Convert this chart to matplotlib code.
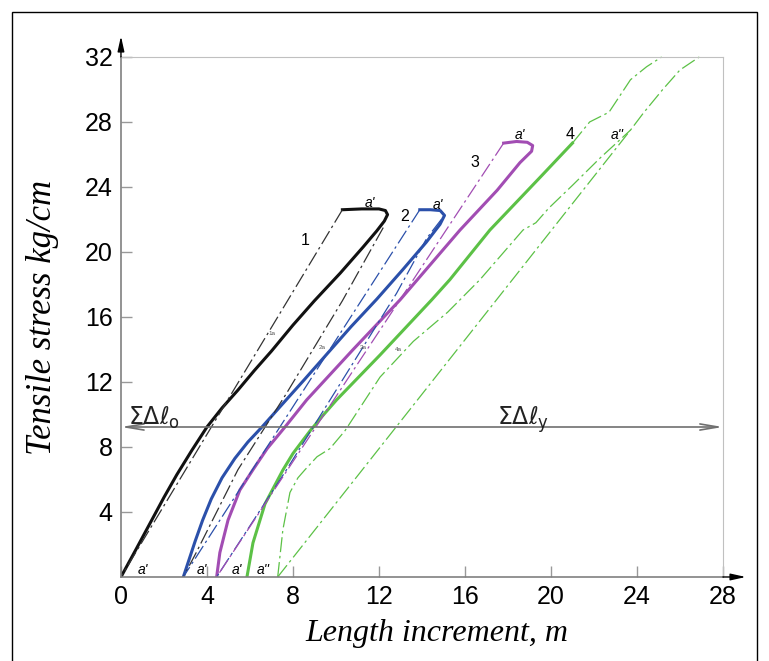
import numpy as np
import matplotlib.pyplot as plt
from matplotlib.patches import Rectangle

plt.rcParams['font.family'] = ['Liberation Sans', 'DejaVu Sans']
plt.rcParams['mathtext.fontset'] = 'dejavusans'

# loading curves (solid)
c1_x = [0, 0.7, 1.35, 2.0, 2.6, 3.3, 4.0, 4.7, 5.44, 6.2, 7.0, 8.0, 9.0, 10.2, 11.26, 11.9, 12.25, 12.4, 12.3, 12.0, 11.2, 10.3]
c1_y = [0, 1.7, 3.3, 4.9, 6.3, 7.8, 9.23, 10.4, 11.5, 12.7, 13.9, 15.5, 17.0, 18.7, 20.3, 21.3, 21.9, 22.3, 22.55, 22.65, 22.65, 22.6]
c2_x = [2.9, 3.15, 3.45, 3.8, 4.2, 4.7, 5.3, 5.9, 6.56, 7.55, 8.5, 9.5, 10.7, 11.9, 13.1, 14.2, 14.84, 15.05, 14.85, 14.4, 13.9]
c2_y = [0, 1.0, 2.2, 3.5, 4.8, 6.1, 7.3, 8.3, 9.23, 10.7, 12.1, 13.6, 15.4, 17.1, 18.9, 20.6, 21.7, 22.25, 22.55, 22.6, 22.6]
c3_x = [4.45, 4.6, 4.98, 5.53, 6.14, 6.8, 7.63, 8.64, 10.8, 12.98, 15.77, 17.5, 18.56, 19.1, 19.15, 18.9, 18.4, 17.8]
c3_y = [0, 1.5, 3.5, 5.35, 6.6, 7.9, 9.23, 10.9, 14.0, 17.05, 21.35, 23.8, 25.5, 26.2, 26.55, 26.75, 26.8, 26.7]
c4_x = [5.86, 6.14, 6.7, 7.54, 8.0, 8.8, 9.4, 10.03, 12.05, 14.45, 15.3, 17.16, 19.5, 21.0]
c4_y = [0, 2.1, 4.5, 6.6, 7.6, 9.0, 9.95, 10.9, 13.66, 17.05, 18.3, 21.35, 24.6, 26.7]

# unloading / reference lines (dash-dot)
d1a_x = [10.3, 0]
d1a_y = [22.6, 0]
d1b_x = [12.2, 10.3, 7.7, 5.44, 3.5, 2.9]
d1b_y = [21.5, 17.0, 11.3, 6.6, 1.5, 0]
d2a_x = [13.9, 2.9]
d2a_y = [22.6, 0]
d2b_x = [14.9, 14.22, 12.82, 7.7, 4.45]
d2b_y = [22.0, 20.84, 17.46, 6.6, 0]
d3a_x = [17.8, 4.45]
d3a_y = [26.7, 0]
d4_top_x = [21.0, 21.8, 22.7, 23.3, 23.7, 24.45, 25.15]
d4_top_y = [26.7, 28.0, 28.6, 29.8, 30.6, 31.4, 32.0]
d4_wavy_x = [7.29, 7.53, 7.86, 8.23, 8.56, 9.12, 9.72, 10.42, 12.05, 13.6, 15.2, 16.7, 18.7, 19.3, 19.9, 21.0, 22.3, 23.7]
d4_wavy_y = [0, 2.9, 5.2, 6.1, 6.6, 7.4, 7.9, 9.0, 12.3, 14.5, 16.3, 18.3, 21.35, 21.8, 22.7, 24.1, 25.8, 27.5]
d4_str_x = [7.29, 23.7, 24.3, 25.2, 26.0, 26.9]
d4_str_y = [0, 27.5, 28.55, 30.0, 31.2, 32.0]

level = 9.23
x_ticks = [0, 4, 8, 12, 16, 20, 24, 28]
y_ticks = [4, 8, 12, 16, 20, 24, 28, 32]

black = '#111111'
blue = '#2b50aa'
purple = '#a24db3'
green = '#5cc146'
dd = (0, (12, 3, 2, 3))

fig = plt.figure(figsize=(7.69, 6.61), dpi=100)
fig.patches.append(Rectangle((12 / 769, -0.05), 745 / 769, 1.032, transform=fig.transFigure,
                             fill=False, ec='black', lw=1))
ax = fig.add_axes([0.1573, 0.1271, 0.7828, 0.7867])

ax.plot(c1_x, c1_y, color=black, lw=2.2, solid_joinstyle='round')
ax.plot(c2_x, c2_y, color=blue, lw=2.2, solid_joinstyle='round')
ax.plot(c3_x, c3_y, color=purple, lw=2.2, solid_joinstyle='round')
ax.plot(c4_x, c4_y, color=green, lw=2.2, solid_joinstyle='round')

ax.plot(d1a_x, d1a_y, color='#333333', lw=0.9, ls=dd)
ax.plot(d1b_x, d1b_y, color='#333333', lw=0.9, ls=dd)
ax.plot(d2a_x, d2a_y, color=blue, lw=0.9, ls=dd)
ax.plot(d2b_x, d2b_y, color=blue, lw=0.9, ls=dd)
ax.plot(d3a_x, d3a_y, color=purple, lw=0.9, ls=dd)
ax.plot(d4_top_x, d4_top_y, color=green, lw=0.9, ls=dd, clip_on=False)
ax.plot(d4_wavy_x, d4_wavy_y, color=green, lw=0.9, ls=dd)
ax.plot(d4_str_x, d4_str_y, color=green, lw=0.9, ls=dd, clip_on=False)

# horizontal level line with open arrow heads
ax.annotate('', xy=(0, level), xytext=(28, level),
            arrowprops=dict(arrowstyle='<->,head_length=1.3,head_width=0.22', color='#707070',
                            lw=1.2, shrinkA=0, shrinkB=0))
ax.text(0.35, level + 0.15, r'$\Sigma\Delta\ell_{\rm o}$', fontsize=17, color='#222222', va='baseline')
ax.text(17.5, level + 0.15, r'$\Sigma\Delta\ell_{\rm y}$', fontsize=17, color='#222222', va='baseline')

# curve labels
for x, y, s in [(8.56, 20.7, '1'), (13.2, 22.2, '2'), (16.47, 25.5, '3'), (20.9, 27.2, '4')]:
    ax.text(x, y, s, fontsize=11.5, ha='center', va='center')
for x, y, s in [(11.58, 23.0, "a'"), (14.74, 22.9, "a'"), (18.56, 27.2, "a'"), (23.07, 27.2, "a''"),
                (1.02, 0.45, "a'"), (3.77, 0.45, "a'"), (5.4, 0.45, "a'"), (6.6, 0.45, "a''")]:
    ax.text(x, y, s, fontsize=10, style='italic', ha='center', va='center')
for x, y, s in [(7.02, 15.0, '1a'), (9.35, 14.15, '2a'), (11.26, 14.1, '3a'), (12.9, 14.0, '4a')]:
    ax.text(x, y, s, fontsize=4.5, color='#555555', ha='center', va='center')

ax.set_xlim(0, 28)
ax.set_ylim(0, 32)
ax.set_xticks(x_ticks)
ax.set_yticks(y_ticks)
ax.tick_params(direction='in', length=8, width=1, color='#999999', labelsize=18, pad=6)
for side in ['top', 'right']:
    ax.spines[side].set_color('#c0c0c0')
for side in ['left', 'bottom']:
    ax.spines[side].set_color('#808080')
    ax.spines[side].set_linewidth(1.2)

# axis arrows
ax.annotate('', xy=(0, 1.04), xytext=(0, 1.0), xycoords='axes fraction',
            arrowprops=dict(arrowstyle='-|>,head_length=0.9,head_width=0.2', color='black',
                            lw=1, shrinkA=0, shrinkB=0))
ax.annotate('', xy=(1.038, 0), xytext=(1.0, 0), xycoords='axes fraction',
            arrowprops=dict(arrowstyle='-|>,head_length=0.9,head_width=0.2', color='black',
                            lw=1, shrinkA=0, shrinkB=0))

fig.text(43 / 769, 1 - 317 / 661, 'Tensile stress kg/cm', rotation=90, ha='center', va='center',
         fontsize=25, style='italic', family='Liberation Serif')
fig.text(437 / 769, 1 - 634 / 661, 'Length increment, m', ha='center', va='center',
         fontsize=23, style='italic', family='Liberation Serif')

fig.savefig('out.png', dpi=100)
